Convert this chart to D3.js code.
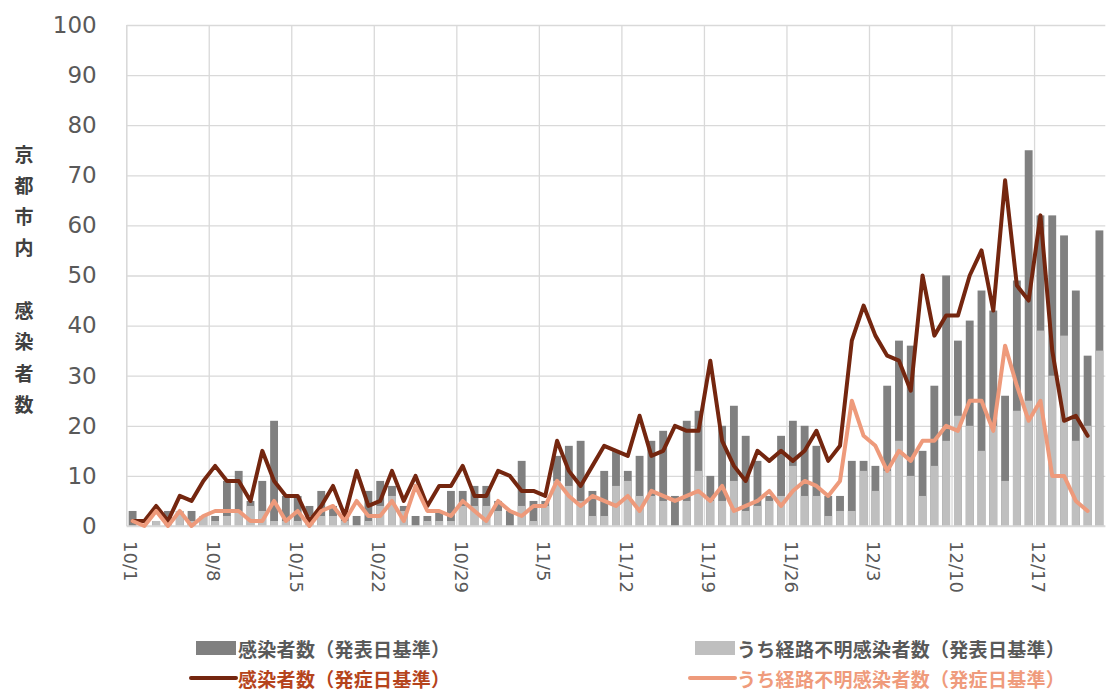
<!DOCTYPE html>
<html>
<head>
<meta charset="utf-8">
<script src="https://cdn.jsdelivr.net/npm/d3@7"></script>
<style>
    body{margin:0;background:#fff;}
    svg{display:block;}
</style>
</head>
<body>
<div id="chart"></div>
<script>

// 発表日基準 (bars)
var totalPub = [3,0,1,3,3,3,2,2,9,11,5,9,21,6,6,4,7,4,2,2,7,
    9,8,4,2,2,3,7,7,8,8,5,3,13,5,5,14,16,17,7,11,
    15,11,14,17,19,6,21,23,10,20,24,18,13,6,18,21,20,16,6,6,
    13,13,12,28,37,36,15,28,50,37,41,47,43,26,49,75,62,62,58,47,34,59];
var unknownPub = [0,0,1,1,3,1,2,1,2,3,4,3,1,1,1,2,2,2,1,0,1,
    4,6,3,0,1,1,1,4,4,4,3,0,4,1,4,9,8,5,2,2,
    8,9,6,6,5,0,5,11,5,5,9,3,4,5,6,12,6,6,2,3,
    3,11,7,11,17,10,6,12,17,22,20,15,20,9,23,25,39,30,38,17,20,35];

// 発症日基準 (lines)
var totalOnset = [1,1,4,1,6,5,9,12,9,9,5,15,9,6,6,1,4,8,2,11,4,
    5,11,5,10,4,8,8,12,6,6,11,10,7,7,6,17,11,8,12,16,
    15,14,22,14,15,20,19,19,33,17,12,9,15,13,15,13,15,19,13,16,
    37,44,38,34,33,27,50,38,42,42,50,55,43,69,48,45,62,35,21,22,18,null];
var unknownOnset = [1,0,3,0,3,0,2,3,3,3,1,1,5,1,3,0,3,4,1,5,2,
    2,5,1,8,3,3,2,5,3,1,5,3,2,4,4,9,6,4,6,5,
    4,6,3,7,6,5,6,7,5,8,3,4,5,7,4,7,9,8,6,9,
    25,18,16,11,15,13,17,17,20,19,25,25,19,36,28,21,25,10,10,5,3,null];

var tickLabels = ["10/1","10/8","10/15","10/22","10/29","11/5","11/12","11/19","11/26","12/3","12/10","12/17"];
var yTitle = ["京","都","市","内","　","感","染","者","数"];
var legendLabels = ["感染者数（発表日基準）","うち経路不明感染者数（発表日基準）","感染者数（発症日基準）","うち経路不明感染者数（発症日基準）"];

var fmt = d3.timeFormat("%-m/%-d");
var days = d3.timeDay.range(new Date(2020, 9, 1), new Date(2020, 11, 23)).map(fmt);

var width = 1106, height = 693;
var plot = {left: 126.7, right: 1105.3, top: 25, bottom: 526};

var cDark = "#808080", cLight = "#bfbfbf", cLine = "#74260f", cSalmon = "#ee9a7b", cGrid = "#d9d9d9";

var xScale = d3.scaleBand()
    .domain(days)
    .range([plot.left, plot.right])
    .padding(0)
    ;
var yScale = d3.scaleLinear()
    .domain([0, 100])
    .range([plot.bottom, plot.top])
    ;
var barW = xScale.bandwidth() / 1.5;  // gap width 50%
var cx = d => xScale(d) + xScale.bandwidth() / 2;

var svg = d3.select("#chart").append("svg")
    .attr("width", width)
    .attr("height", height)
    ;

//-GRID--------------------------------------------------------------------//
var yAxis = d3.axisLeft(yScale)
    .ticks(10)
    .tickSize(-(plot.right - plot.left))
    .tickPadding(30)
    ;
var svg_y_axis = svg.append("g")
    .attr("class", "axis y-axis")
    .attr("transform", `translate(${plot.left},0)`)
    .call(yAxis)
    ;
svg_y_axis.select(".domain").remove();
svg_y_axis.selectAll("line")
    .attr("stroke", cGrid)
    .attr("stroke-width", 1.3)
    ;
svg_y_axis.selectAll("text")
    .attr("fill", "#595959")
    .attr("font-family", "DejaVu Sans, Verdana, sans-serif")
    .attr("font-size", 23)
    ;

svg.append("g")
    .attr("class", "vgrid")
    .selectAll("line")
    .data(tickLabels)
    .join("line")
    .attr("x1", d => xScale(d))
    .attr("x2", d => xScale(d))
    .attr("y1", plot.top)
    .attr("y2", plot.bottom)
    .attr("stroke", cGrid)
    .attr("stroke-width", 1.3)
    ;

//-BARS--------------------------------------------------------------------//
svg.append("g")
    .selectAll("rect")
    .data(days)
    .join("rect")
    .attr("x", (d, i) => cx(d) - barW / 2)
    .attr("y", (d, i) => yScale(totalPub[i]))
    .attr("width", barW)
    .attr("height", (d, i) => yScale(0) - yScale(totalPub[i]))
    .attr("fill", cDark)
    ;
svg.append("g")
    .selectAll("rect")
    .data(days)
    .join("rect")
    .attr("x", (d, i) => cx(d) - barW / 2)
    .attr("y", (d, i) => yScale(unknownPub[i]))
    .attr("width", barW)
    .attr("height", (d, i) => yScale(0) - yScale(unknownPub[i]))
    .attr("fill", cLight)
    ;

// axis lines
svg.append("line")
    .attr("x1", plot.left).attr("x2", plot.left)
    .attr("y1", plot.top).attr("y2", plot.bottom)
    .attr("stroke", cGrid).attr("stroke-width", 1.3)
    ;
svg.append("line")
    .attr("x1", plot.left).attr("x2", plot.right)
    .attr("y1", plot.bottom).attr("y2", plot.bottom)
    .attr("stroke", cGrid).attr("stroke-width", 1.5)
    ;

//-LINES-------------------------------------------------------------------//
function drawLine(values, color){
    var line = d3.line()
        .defined(d => d[1] != null)
        .x(d => cx(d[0]))
        .y(d => yScale(d[1]))
        ;
    svg.append("path")
        .datum(days.map((d, i) => [d, values[i]]))
        .attr("d", line)
        .attr("fill", "none")
        .attr("stroke", color)
        .attr("stroke-width", 4)
        .attr("stroke-linejoin", "round")
        .attr("stroke-linecap", "round")
        ;
}
drawLine(totalOnset, cLine);
drawLine(unknownOnset, cSalmon);

//-X LABELS----------------------------------------------------------------//
svg.append("g")
    .attr("class", "x-labels")
    .selectAll("text")
    .data(tickLabels)
    .join("text")
    .attr("transform", d => `translate(${cx(d)},${plot.bottom + 15}) rotate(90)`)
    .attr("dy", "0.45em")
    .attr("fill", "#595959")
    .attr("font-family", "DejaVu Sans, Verdana, sans-serif")
    .attr("font-size", 18)
    .text(d => d)
    ;

//-Y TITLE-----------------------------------------------------------------//
svg.append("g")
    .attr("class", "y-title")
    .selectAll("text")
    .data(yTitle)
    .join("text")
    .attr("x", 24)
    .attr("y", (d, i) => 153 + i * 31.3)
    .attr("text-anchor", "middle")
    .attr("dominant-baseline", "central")
    .attr("fill", "#404040")
    .attr("font-family", "Noto Sans CJK JP, sans-serif")
    .attr("font-weight", "bold")
    .attr("font-size", 19)
    .text(d => d)
    ;

//-LEGEND------------------------------------------------------------------//
var legendColors = [cDark, cLight, cLine, cSalmon];
var legendText = ["#595959", "#595959", "#b5441c", "#ef9b7c"];
var legend = svg.append("g")
    .attr("class", "legend")
    .selectAll("g")
    .data(legendLabels)
    .join("g")
    .attr("transform", (d, i) => `translate(${196 + (i % 2) * 499},${648 + Math.floor(i / 2) * 30})`)
    ;
legend.filter((d, i) => i < 2)
    .append("rect")
    .attr("x", 0).attr("y", -7)
    .attr("width", 40).attr("height", 14)
    .attr("fill", (d, i) => legendColors[i])
    ;
legend.filter((d, i) => i >= 2)
    .append("line")
    .attr("x1", -5).attr("x2", 40)
    .attr("y1", 0).attr("y2", 0)
    .attr("stroke", (d, i) => legendColors[i + 2])
    .attr("stroke-width", 4)
    .attr("stroke-linecap", "round")
    ;
legend.append("text")
    .attr("x", 42)
    .attr("y", 0)
    .attr("dominant-baseline", "central")
    .attr("fill", (d, i) => legendText[i])
    .attr("font-family", "Noto Sans CJK JP, sans-serif")
    .attr("font-weight", "bold")
    .attr("font-size", 19)
    .attr("letter-spacing", 0.3)
    .text(d => d)
    ;

</script>
</body>
</html>
